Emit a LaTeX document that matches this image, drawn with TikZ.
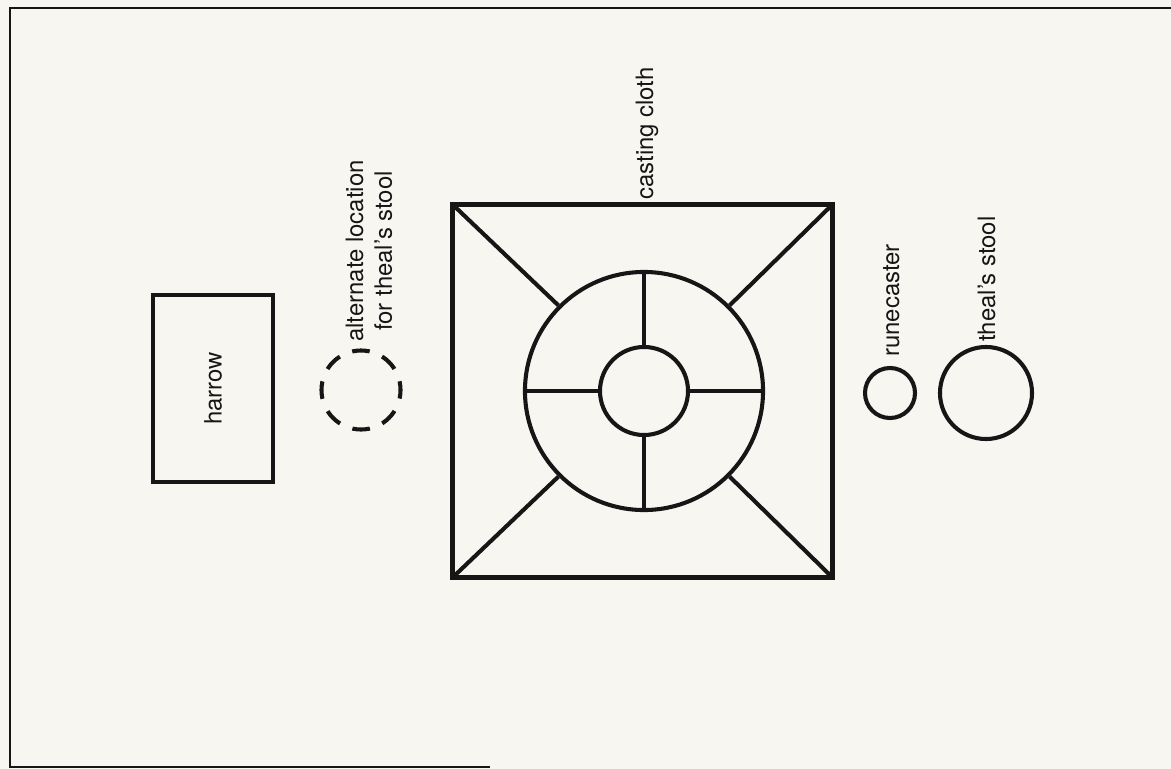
\documentclass[tikz,border=0pt]{standalone}
\usepackage{fontspec}
\setmainfont{TeX Gyre Heros}
\usetikzlibrary{positioning}
\definecolor{paperCol}{HTML}{F8F6F1}
\definecolor{inkCol}{HTML}{161616}
\tikzset{
  sheetedge/.style={draw=inkCol, line width=0.8pt},                       % printed page frame
  clothbox/.style={draw=inkCol, line width=3.6pt, inner sep=0pt,
                   minimum width=9.475cm, minimum height=9.3cm},
  ring/.style={circle, draw=inkCol, line width=2.9pt, inner sep=0pt, minimum size=#1},
  dashring/.style={ring=#1, dash pattern=on 0.44cm off 0.336cm, dash phase=0.22cm},
  spoke/.style={draw=inkCol, line width=2.9pt},
  harrowbox/.style={draw=inkCol, line width=2.9pt, rotate=90, inner sep=0pt,
                    minimum width=4.675cm, minimum height=3.0cm},
  lbl/.style={font=\fontsize{17}{20.5}\selectfont, text=inkCol, inner sep=0pt, rotate=90},
}
\begin{document}
\begin{tikzpicture}[x=0.025cm, y=-0.025cm]
  \useasboundingbox (0,0) rectangle (1171,769);
  \fill[paperCol] (0,0) rectangle (1171,769);

  % page frame
  \coordinate (fTL) at (10,8);
  \coordinate (fTR) at (1171,8);
  \coordinate (fBL) at (10,767);
  \coordinate (fBR) at (490,767);
  \draw[sheetedge] (fTR) -- (fTL) -- (fBL) -- (fBR);

  % harrow
  \node[harrowbox, font=\fontsize{17}{20.5}\selectfont, text=inkCol] (harrow) at (213,388.5) {harrow};

  % alternate stool position
  \node[dashring=1.975cm] (altstool) at (361,390) {};
  \node[lbl, align=center] (altlbl) at (369,251) {alternate location\\for theal's stool};

  % casting cloth
  \node[clothbox] (cloth) at (642.5,391) {};
  \node[ring=5.95cm] (outer) at (644,391) {};
  \node[ring=2.2cm]  (inner) at (644,391) {};
  \foreach \a in {north,south,east,west}{\draw[spoke] (inner.\a) -- (outer.\a);}
  \foreach \a in {north west,north east,south west,south east}{\draw[spoke, shorten <=1.5pt] (cloth.\a) -- (outer.\a);}
  \node[lbl, anchor=base west] (clothlbl) at (653,200) {casting cloth};

  % runecaster and stool
  \node[ring=1.25cm] (rune) at (890,393) {};
  \node[lbl, anchor=base west] (runelbl) at (899,357) {runecaster};
  \node[ring=2.3cm] (stool) at (986,393) {};
  \node[lbl, anchor=base west] (stoollbl) at (995,342) {theal's stool};
\end{tikzpicture}
\end{document}
